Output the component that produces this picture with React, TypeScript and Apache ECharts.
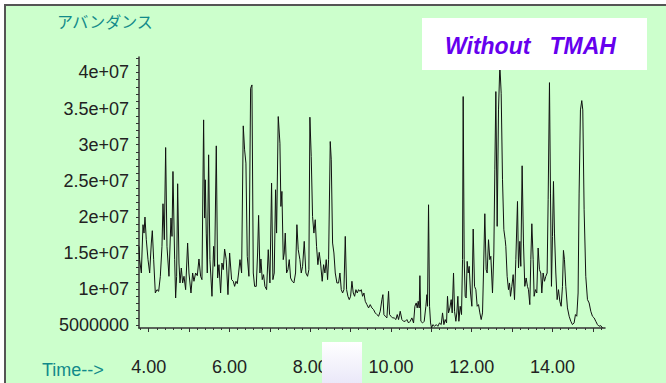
import React, { useEffect, useRef } from "react";
import * as echarts from "echarts";

// Retention time (min)
const times: number[] = [
  3.76, 3.776, 3.818, 3.859, 3.884, 3.908, 3.941, 3.983, 4.024, 4.065, 4.09, 4.123, 4.164, 4.205, 4.247, 4.288,
  4.329, 4.354, 4.387, 4.42, 4.453, 4.502, 4.552, 4.577, 4.601, 4.643, 4.667, 4.692, 4.717, 4.75, 4.775, 4.808,
  4.841, 4.874, 4.915, 4.964, 4.997, 5.047, 5.088, 5.121, 5.162, 5.204, 5.245, 5.286, 5.319, 5.36, 5.385, 5.402,
  5.426, 5.451, 5.484, 5.517, 5.567, 5.608, 5.633, 5.674, 5.707, 5.74, 5.781, 5.814, 5.847, 5.88, 5.921, 5.963,
  6.004, 6.053, 6.095, 6.128, 6.161, 6.194, 6.227, 6.26, 6.301, 6.342, 6.375, 6.408, 6.441, 6.482, 6.524, 6.557,
  6.59, 6.623, 6.664, 6.697, 6.722, 6.755, 6.779, 6.812, 6.845, 6.878, 6.92, 6.961, 7.002, 7.043, 7.076, 7.109,
  7.142, 7.167, 7.208, 7.25, 7.274, 7.299, 7.332, 7.357, 7.382, 7.415, 7.448, 7.481, 7.514, 7.555, 7.596, 7.637,
  7.67, 7.703, 7.745, 7.778, 7.811, 7.852, 7.893, 7.934, 7.967, 7.992, 8.025, 8.058, 8.091, 8.124, 8.157, 8.19,
  8.223, 8.256, 8.297, 8.331, 8.364, 8.397, 8.43, 8.455, 8.496, 8.521, 8.554, 8.587, 8.62, 8.661, 8.703, 8.736,
  8.769, 8.802, 8.835, 8.868, 8.901, 8.934, 8.967, 9.0, 9.033, 9.066, 9.099, 9.132, 9.165, 9.198, 9.231, 9.264,
  9.297, 9.33, 9.363, 9.404, 9.445, 9.486, 9.528, 9.569, 9.61, 9.651, 9.693, 9.734, 9.775, 9.8, 9.825, 9.858,
  9.899, 9.94, 9.965, 9.998, 10.039, 10.08, 10.122, 10.155, 10.188, 10.229, 10.27, 10.311, 10.353, 10.394, 10.435, 10.476,
  10.518, 10.559, 10.592, 10.625, 10.65, 10.674, 10.699, 10.716, 10.74, 10.782, 10.823, 10.864, 10.889, 10.905, 10.93, 10.955,
  10.98, 11.004, 11.037, 11.079, 11.12, 11.161, 11.202, 11.244, 11.277, 11.31, 11.343, 11.376, 11.4, 11.425, 11.458, 11.491,
  11.516, 11.549, 11.574, 11.607, 11.631, 11.656, 11.681, 11.714, 11.747, 11.772, 11.788, 11.813, 11.838, 11.862, 11.887, 11.912,
  11.937, 11.97, 12.003, 12.036, 12.069, 12.102, 12.135, 12.168, 12.201, 12.234, 12.267, 12.291, 12.324, 12.357, 12.382, 12.415,
  12.448, 12.473, 12.514, 12.547, 12.572, 12.597, 12.63, 12.663, 12.696, 12.729, 12.762, 12.795, 12.828, 12.844, 12.877, 12.91,
  12.935, 12.96, 12.993, 13.026, 13.059, 13.092, 13.133, 13.158, 13.191, 13.215, 13.248, 13.281, 13.314, 13.347, 13.38, 13.405,
  13.438, 13.463, 13.488, 13.521, 13.545, 13.578, 13.611, 13.644, 13.677, 13.71, 13.735, 13.768, 13.801, 13.834, 13.867, 13.892,
  13.925, 13.95, 13.974, 13.999, 14.024, 14.049, 14.082, 14.115, 14.148, 14.181, 14.214, 14.247, 14.271, 14.296, 14.329, 14.37,
  14.412, 14.453, 14.494, 14.535, 14.568, 14.601, 14.634, 14.659, 14.692, 14.725, 14.75, 14.783, 14.824, 14.866, 14.907, 14.948,
  14.989, 15.031, 15.072, 15.113, 15.154, 15.195, 15.237,
];

// Abundance (millions of counts)
const abundanceM: number[] = [
  15.91, 14.07, 12.22, 18.91, 17.75, 19.97, 16.83, 14.07, 12.22, 16.37, 18.08, 14.07, 9.45, 9.91, 9.68, 11.76,
  15.91, 21.81, 16.83, 29.6, 15.91, 11.76, 19.83, 17.29, 26.28, 14.07, 8.76, 11.76, 24.58, 13.6, 10.84, 12.91,
  10.84, 11.76, 9.91, 16.37, 12.22, 9.45, 12.22, 11.07, 12.22, 11.85, 14.16, 11.76, 11.3, 33.43, 19.83, 25.13,
  17.75, 12.22, 28.59, 14.07, 8.99, 15.91, 13.14, 29.83, 11.53, 13.37, 9.45, 13.6, 12.68, 15.54, 14.07, 9.22,
  14.99, 11.3, 11.07, 10.37, 11.07, 10.74, 12.22, 14.07, 12.22, 32.6, 29.28, 27.44, 14.53, 11.76, 37.81, 38.27,
  12.22, 10.37, 10.37, 14.99, 20.2, 12.22, 14.16, 11.3, 11.99, 10.37, 9.91, 15.45, 10.84, 24.67, 11.3, 12.22,
  23.75, 17.75, 33.89, 30.2, 21.44, 23.52, 14.07, 14.99, 17.75, 12.22, 12.68, 14.07, 11.53, 11.07, 10.84, 12.22,
  18.91, 15.45, 14.07, 12.22, 13.14, 16.6, 12.22, 11.76, 12.68, 33.8, 28.36, 20.06, 17.75, 19.6, 15.91, 13.37,
  15.08, 13.6, 11.07, 13.37, 12.22, 14.07, 11.3, 14.07, 30.43, 27.9, 16.37, 14.99, 12.22, 10.84, 10.84, 12.22,
  9.91, 9.45, 9.91, 17.29, 9.91, 8.99, 8.53, 8.99, 11.07, 9.45, 8.99, 9.91, 9.45, 9.91, 9.68, 9.91,
  8.99, 9.45, 8.3, 7.84, 7.38, 7.84, 7.38, 7.15, 6.69, 6.46, 6.23, 6.92, 8.53, 9.22, 6.46, 6.23,
  6.0, 9.68, 6.46, 6.23, 6.0, 6.0, 5.77, 6.46, 5.77, 6.92, 5.77, 5.53, 5.53, 5.77, 5.3, 5.53,
  6.0, 5.3, 7.61, 8.07, 7.38, 8.3, 7.38, 11.85, 5.53, 5.3, 5.53, 7.61, 9.22, 7.61, 21.67, 7.61,
  5.3, 4.61, 5.07, 4.84, 5.07, 4.84, 5.3, 5.07, 6.69, 5.07, 5.77, 5.3, 8.99, 6.69, 7.38, 8.53,
  6.69, 12.22, 6.92, 5.53, 6.69, 8.99, 5.53, 7.61, 6.46, 14.07, 36.66, 14.07, 8.99, 8.76, 13.83, 12.22,
  13.14, 9.45, 7.61, 18.31, 10.37, 9.91, 7.61, 7.84, 6.69, 5.77, 6.69, 12.22, 20.43, 12.68, 12.22, 16.83,
  14.07, 14.53, 9.45, 14.99, 26.51, 37.35, 18.68, 34.81, 41.0, 37.12, 25.13, 18.21, 16.83, 15.91, 11.76, 9.91,
  10.84, 8.99, 10.37, 11.99, 8.53, 14.07, 22.13, 12.91, 16.6, 13.14, 27.07, 16.37, 10.37, 11.53, 10.37, 9.91,
  7.84, 14.07, 19.04, 14.07, 8.99, 9.91, 9.45, 15.68, 12.68, 12.22, 9.45, 12.22, 11.07, 11.76, 12.22, 22.36,
  38.59, 23.29, 10.37, 17.29, 24.9, 17.75, 12.22, 8.53, 9.91, 8.3, 7.61, 10.37, 15.35, 14.07, 10.37, 7.38,
  6.23, 5.53, 5.07, 5.3, 6.46, 6.23, 9.45, 23.29, 34.81, 36.1, 34.81, 20.98, 11.76, 8.53, 8.07, 6.92,
  6.23, 6.0, 5.53, 5.07, 4.84, 4.93, 4.61,
];

// Axis tick values
const xLabelValues = [4, 6, 8, 10, 12, 14];
const xMajorTicks = [4, 5, 6, 7, 8, 9, 10, 11, 12, 13, 14, 15];
const yLabelValues = [5e6, 1e7, 1.5e7, 2e7, 2.5e7, 3e7, 3.5e7, 4e7];

const X_MIN = 3.76;
const X_MAX = 15.3;
const Y_MIN = 4.6e6;
const Y_MAX = 4.214e7;

const xMinorTicks: number[] = [];
for (let i = 19; i <= 76; i++) {
  if (i % 5 !== 0) xMinorTicks.push(i / 5);
}
const yMinorTicks: number[] = [];
for (let i = 5; i <= 42; i++) yMinorTicks.push(i * 1e6);

const TEAL = "#128a8a";
const AXIS = "#333333";
const LABEL_FONT = "'Liberation Sans', Arial, sans-serif";

export default function App() {
  const ref = useRef<HTMLDivElement>(null);

  useEffect(() => {
    if (!ref.current) return;
    const chart = echarts.init(ref.current, null, { renderer: "svg" });
    const data = times.map((t, i) => [t, abundanceM[i] * 1e6]);

    chart.setOption({
      animation: false,
      backgroundColor: "#ffffff",
      grid: { left: 139, top: 57, width: 466, height: 271 },
      xAxis: [
        {
          type: "value",
          min: X_MIN,
          max: X_MAX,
          position: "bottom",
          axisLine: { show: true, onZero: false, lineStyle: { color: AXIS, width: 1.5 } },
          axisTick: { show: true, customValues: xMajorTicks, length: 4, lineStyle: { color: AXIS, width: 1 } },
          axisLabel: {
            customValues: xLabelValues,
            formatter: (v: number) => v.toFixed(2),
            fontSize: 18,
            color: "#222222",
            fontFamily: LABEL_FONT,
            margin: 30,
          },
          splitLine: { show: false },
        },
        {
          type: "value",
          min: X_MIN,
          max: X_MAX,
          position: "bottom",
          axisLine: { show: false, onZero: false },
          axisTick: { show: true, customValues: xMinorTicks, length: 2, lineStyle: { color: AXIS, width: 1 } },
          axisLabel: { show: false },
          splitLine: { show: false },
        },
      ],
      yAxis: {
        type: "value",
        min: Y_MIN,
        max: Y_MAX,
        axisLine: { show: true, onZero: false, lineStyle: { color: AXIS, width: 1.5 } },
        axisTick: { show: true, customValues: yMinorTicks, length: 3, lineStyle: { color: AXIS, width: 1 } },
        axisLabel: {
          customValues: yLabelValues,
          formatter: (v: number) => (v === 5e6 ? "5000000" : `${v / 1e7}e+07`),
          fontSize: 18,
          color: "#222222",
          fontFamily: LABEL_FONT,
          margin: 10,
        },
        splitLine: { show: false },
      },
      series: [
        {
          type: "line",
          data,
          xAxisIndex: 0,
          showSymbol: false,
          symbol: "none",
          lineStyle: { color: "#111111", width: 1 },
          z: 5,
        },
      ],
      graphic: [
        {
          type: "rect",
          z: -100,
          shape: { x: 5, y: 5, width: 700, height: 420 },
          style: { fill: "#ccffcc", stroke: "#555555", lineWidth: 2 },
        },
        {
          type: "text",
          z: 10,
          x: 57,
          y: 21,
          style: {
            text: "アバンダンス",
            fill: TEAL,
            fontSize: 16,
            fontFamily: "'Noto Sans CJK JP', sans-serif",
            verticalAlign: "middle",
            align: "left",
          },
        },
        {
          type: "text",
          z: 10,
          x: 42,
          y: 370,
          style: {
            text: "Time-->",
            fill: TEAL,
            fontSize: 18,
            fontFamily: LABEL_FONT,
            verticalAlign: "middle",
            align: "left",
          },
        },
        {
          type: "rect",
          z: 100,
          shape: { x: 422, y: 18, width: 225, height: 52 },
          style: { fill: "#ffffff" },
        },
        {
          type: "text",
          z: 101,
          x: 445,
          y: 46,
          style: {
            text: "Without \u00a0 TMAH",
            fill: "#6600ee",
            fontSize: 23,
            fontWeight: "bold",
            fontStyle: "italic",
            fontFamily: LABEL_FONT,
            verticalAlign: "middle",
            align: "left",
          },
        },
        {
          type: "rect",
          z: 100,
          shape: { x: 322, y: 342, width: 40, height: 45 },
          style: {
            fill: new echarts.graphic.LinearGradient(0, 0, 0, 1, [
              { offset: 0, color: "#ffffff" },
              { offset: 1, color: "#e8e6f8" },
            ]),
          },
        },
      ],
    });

    return () => chart.dispose();
  }, []);

  return (
    <div
      ref={ref}
      style={{ position: "absolute", left: 0, top: 0, width: 666, height: 383 }}
    />
  );
}
